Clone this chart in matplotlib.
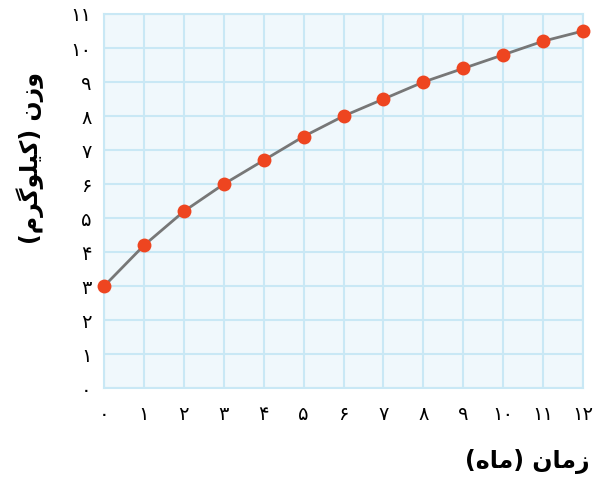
import matplotlib
matplotlib.use('Agg')
import matplotlib.pyplot as plt

# months and weight (kg)
months = [0, 1, 2, 3, 4, 5, 6, 7, 8, 9, 10, 11, 12]
weight = [3, 4.2, 5.2, 6, 6.7, 7.4, 8, 8.5, 9, 9.4, 9.8, 10.2, 10.5]

x_ticks = list(range(0, 13))
y_ticks = list(range(0, 12))
fa_digits = '۰۱۲۳۴۵۶۷۸۹'


def to_fa(n):
    return ''.join(fa_digits[int(c)] for c in str(n))


# Persian labels, pre-shaped with presentation forms and in visual order
# "زمان (ماه)"
x_label = '(\uFEE9\uFE8E\uFEE3) \uFEE5\uFE8E\uFEE3\uFEAF'
# "وزن (کیلوگرم)"
y_label = '(\uFEE1\uFEAE\uFB94\uFEEE\uFEE0\uFEF4\uFEDB) \uFEE5\uFEAF\uFEED'

grid_color = '#c9e8f5'
bg_color = '#f0f8fc'
line_color = '#777777'
dot_color = '#ee4520'

plt.rcParams['font.family'] = ['DejaVu Sans']

fig = plt.figure(figsize=(6.02, 4.86), dpi=100)
ax = fig.add_axes([0.1728, 0.201, 0.7956, 0.7702])
ax.set_facecolor(bg_color)

ax.plot(months, weight, color=line_color, lw=2, zorder=3, clip_on=False)
ax.plot(months, weight, 'o', color=dot_color, ms=10, mec='none', zorder=4, clip_on=False)

ax.set_xlim(0, 12)
ax.set_ylim(0, 11)
ax.set_xticks(x_ticks)
ax.set_yticks(y_ticks)
ax.set_xticklabels([to_fa(v) for v in x_ticks], fontsize=14)
ax.set_yticklabels([to_fa(v) for v in y_ticks], fontsize=14)
ax.tick_params(axis='x', length=0, pad=12)
ax.tick_params(axis='y', length=0, pad=9)
ax.grid(True, color=grid_color, lw=1.5, zorder=1)
ax.set_axisbelow(True)
for s in ax.spines.values():
    s.set_color(grid_color)
    s.set_linewidth(1.5)

fig.text(0.05, 0.675, y_label, rotation=90, fontsize=17, fontweight='bold',
         ha='center', va='center')
fig.text(0.98, 0.05, x_label, fontsize=17, fontweight='bold',
         ha='right', va='center')

fig.savefig('out.png', dpi=100)
